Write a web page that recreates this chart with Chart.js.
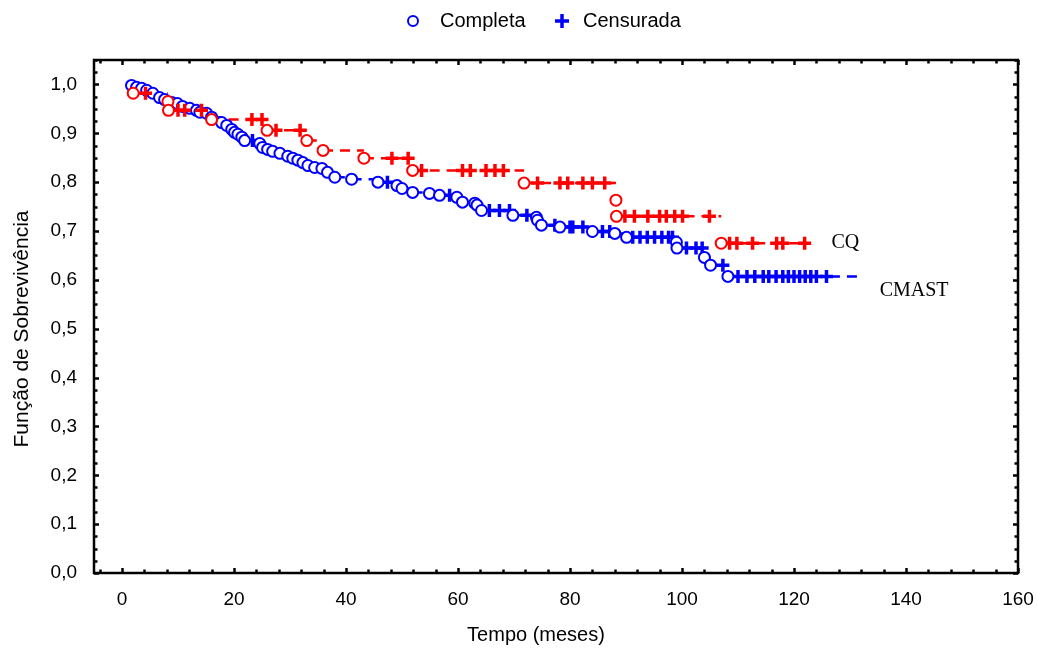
<!DOCTYPE html>
<html>
<head>
<meta charset="utf-8">
<script src="https://cdn.jsdelivr.net/npm/chart.js@4.4.1/dist/chart.umd.min.js"></script>
<style>
html,body{margin:0;padding:0;background:#fff;overflow:hidden}
canvas{display:block}
</style>
</head>
<body>
<canvas id="c" width="1037" height="651"></canvas>
<script>
// ---- Data ----
const cqEventTimes = [2, 8.2, 8.3, 16, 25.9, 33, 35.9, 43.2, 51.9, 71.8, 88.2, 88.3, 107];
const cqEventSurv  = [0.982, 0.965, 0.947, 0.928, 0.906, 0.885, 0.865, 0.849, 0.824, 0.798, 0.763, 0.730, 0.675];
const cqCensoredTimes = [4.2, 10.0, 11.2, 14.2, 23.2, 25.0, 27.5, 31.8, 48.2, 51.1, 53.5, 60.8, 62.2, 65.0, 66.6, 68.1,
  74.2, 78.2, 79.6, 82.3, 84.0, 86.2, 89.8, 91.5, 93.9, 96.0, 97.2, 98.7, 100.1, 104.9,
  108.5, 109.8, 112.6, 116.9, 118.0, 121.9];
const cqEndTime = 122;

const cmastEventTimes = [1.7, 2.6, 3.5, 4.4, 5.5, 6.7, 7.6, 8.9, 9.9, 10.8, 12.1, 13.3, 13.9, 15.1, 16.0, 17.8, 18.7,
  19.6, 20.1, 20.7, 21.4, 21.9, 24.6, 25.1, 26.0, 26.9, 28.2, 29.6, 30.5, 31.4, 32.3, 33.2, 34.4, 35.7, 36.7, 38.0,
  41.0, 45.7, 49.1, 50.0, 51.9, 54.9, 56.7, 59.8, 60.8, 63.0, 63.4, 64.2, 69.8, 74.0, 74.2, 74.9, 78.2, 84.0, 88.0,
  90.1, 99.0, 99.1, 104.0, 105.1, 108.2];
const cmastEventSurv = [0.998, 0.994, 0.992, 0.988, 0.982, 0.973, 0.969, 0.963, 0.961, 0.955, 0.951, 0.947, 0.943,
  0.941, 0.933, 0.922, 0.916, 0.908, 0.902, 0.898, 0.892, 0.885, 0.879, 0.871, 0.867, 0.863, 0.859, 0.853, 0.849,
  0.845, 0.840, 0.834, 0.830, 0.828, 0.820, 0.810, 0.806, 0.800, 0.793, 0.787, 0.779, 0.777, 0.773, 0.769, 0.759,
  0.757, 0.753, 0.742, 0.732, 0.728, 0.722, 0.712, 0.708, 0.699, 0.695, 0.687, 0.677, 0.665, 0.646, 0.630, 0.607];
const cmastCensoredTimes = [23.3, 47.4, 58.5, 65.6, 67.4, 69.2, 72.3, 77.3, 80.0, 80.5, 82.3, 85.8, 87.1,
  91.2, 92.5, 93.8, 95.1, 96.4, 97.6, 98.3, 100.8, 102.5, 103.6, 107.3,
  110.0, 111.6, 113.0, 114.5, 115.5, 116.8, 118.0, 119.0, 120.0, 121.0, 122.0, 123.0, 124.0, 125.8];
const cmastEndTime = 131.4;

const xTickValues = [0, 20, 40, 60, 80, 100, 120, 140, 160];
const xTickLabels = ['0', '20', '40', '60', '80', '100', '120', '140', '160'];
const yTickValues = [0, 0.1, 0.2, 0.3, 0.4, 0.5, 0.6, 0.7, 0.8, 0.9, 1.0];
const yTickLabels = ['0,0', '0,1', '0,2', '0,3', '0,4', '0,5', '0,6', '0,7', '0,8', '0,9', '1,0'];

const seriesNames = ['CQ', 'CMAST'];
const legendLabels = ['Completa', 'Censurada'];
const xTitle = 'Tempo (meses)';
const yTitle = 'Função de Sobrevivência';

// ---- Helpers building library data from the arrays ----
function survAt(times, surv, t) {
  let s = 1;
  for (let i = 0; i < times.length; i++) if (times[i] <= t) s = surv[i];
  return s;
}
function eventPoints(times, surv) { return times.map((t, i) => ({x: t, y: surv[i]})); }
function censorPoints(cTimes, times, surv) { return cTimes.map(t => ({x: t, y: survAt(times, surv, t)})); }
function stepSegments(times, surv, endTime) {
  const pts = [];
  for (let i = 0; i < times.length; i++) {
    const next = i < times.length - 1 ? times[i + 1] : endTime;
    pts.push({x: times[i], y: surv[i]}, {x: next, y: surv[i]}, {x: next, y: null});
  }
  return pts;
}

const RED = '#ff0000', BLUE = '#0000ff';
const FONT = '"Liberation Sans", Arial, sans-serif';
const SERIF = '"Liberation Serif", "Times New Roman", serif';

const framePlugin = {
  id: 'frame',
  afterDraw(chart) {
    const {ctx, chartArea: a, scales: {x, y}} = chart;
    ctx.save();
    ctx.strokeStyle = '#000';
    // ticks (inward, all four sides)
    ctx.lineWidth = 2.5;
    ctx.beginPath();
    for (let v = -4; v <= 160.001; v += 4) {
      const px = Math.round(x.getPixelForValue(v)) + 0.5;
      const len = (Math.abs(v % 20) < 0.001) ? 5 : 3.5;
      ctx.moveTo(px, a.bottom); ctx.lineTo(px, a.bottom - len);
      ctx.moveTo(px, a.top); ctx.lineTo(px, a.top + len);
    }
    for (let k = 0; k <= 42; k++) {
      const v = k * 0.025;
      const py = Math.round(y.getPixelForValue(v)) + 0.5;
      const len = (k % 4 === 0) ? 5 : 3.5;
      ctx.moveTo(a.left, py); ctx.lineTo(a.left + len, py);
      ctx.moveTo(a.right, py); ctx.lineTo(a.right - len, py);
    }
    ctx.stroke();
    // frame
    ctx.lineWidth = 2.5;
    ctx.strokeRect(a.left, a.top, a.right - a.left, a.bottom - a.top);

    // axis titles
    ctx.fillStyle = '#000';
    ctx.font = '20px ' + FONT;
    ctx.textAlign = 'center';
    ctx.textBaseline = 'middle';
    ctx.fillText(xTitle, 536, 635);
    ctx.save();
    ctx.translate(22, 329);
    ctx.rotate(-Math.PI / 2);
    ctx.font = '21px ' + FONT;
    ctx.fillText(yTitle, 0, 0);
    ctx.restore();

    // series labels
    ctx.font = '20px ' + SERIF;
    ctx.textAlign = 'left';
    const lbl = [{t: 126.7, s: 0.675}, {t: 135.3, s: 0.577}];
    seriesNames.forEach((n, i) => {
      ctx.fillText(n, x.getPixelForValue(lbl[i].t), y.getPixelForValue(lbl[i].s));
    });

    // legend
    ctx.font = '20px ' + FONT;
    ctx.strokeStyle = BLUE;
    ctx.lineWidth = 2;
    ctx.beginPath(); ctx.arc(413, 21, 5, 0, Math.PI * 2); ctx.stroke();
    ctx.fillText(legendLabels[0], 440, 21);
    ctx.lineWidth = 3.5;
    ctx.beginPath();
    ctx.moveTo(555, 21); ctx.lineTo(569, 21);
    ctx.moveTo(562, 14); ctx.lineTo(562, 28);
    ctx.stroke();
    ctx.fillText(legendLabels[1], 583, 21);
    ctx.restore();
  }
};

new Chart(document.getElementById('c'), {
  type: 'scatter',
  data: {
    datasets: [
      {label: 'CQ completa', data: eventPoints(cqEventTimes, cqEventSurv), pointStyle: 'circle', pointRadius: 5.5,
       borderColor: RED, backgroundColor: '#fff', pointBorderWidth: 2},
      {label: 'CQ censurada', data: censorPoints(cqCensoredTimes, cqEventTimes, cqEventSurv), pointStyle: 'cross',
       pointRadius: 6.5, borderColor: RED, pointBorderWidth: 3.5},
      {label: 'CMAST completa', data: eventPoints(cmastEventTimes, cmastEventSurv), pointStyle: 'circle', pointRadius: 5.5,
       borderColor: BLUE, backgroundColor: '#fff', pointBorderWidth: 2},
      {label: 'CMAST censurada', data: censorPoints(cmastCensoredTimes, cmastEventTimes, cmastEventSurv), pointStyle: 'cross',
       pointRadius: 6.5, borderColor: BLUE, pointBorderWidth: 3.5},
      {label: 'CQ', data: stepSegments(cqEventTimes, cqEventSurv, cqEndTime), showLine: true, pointRadius: 0,
       borderColor: RED, borderWidth: 2.5, borderDash: [10, 7], spanGaps: false},
      {label: 'CMAST', data: stepSegments(cmastEventTimes, cmastEventSurv, cmastEndTime), showLine: true, pointRadius: 0,
       borderColor: BLUE, borderWidth: 2.5, borderDash: [10, 7], spanGaps: false}
    ]
  },
  options: {
    responsive: false,
    animation: false,
    devicePixelRatio: 1,
    layout: {padding: {top: 60, right: 19, bottom: 0, left: 0}},
    plugins: {legend: {display: false}, tooltip: {enabled: false}},
    scales: {
      x: {
        type: 'linear', min: -5, max: 160,
        grid: {display: false, drawTicks: false, tickLength: 0},
        border: {display: false},
        afterBuildTicks: s => { s.ticks = xTickValues.map(v => ({value: v})); },
        afterFit: s => { s.height = 78; s.paddingLeft = 0; s.paddingRight = 0; },
        ticks: {color: '#000', font: {family: FONT, size: 19}, padding: 15, maxRotation: 0,
                callback: (v, i) => xTickLabels[i]}
      },
      y: {
        type: 'linear', min: 0, max: 1.05,
        grid: {display: false, drawTicks: false, tickLength: 0},
        border: {display: false},
        afterBuildTicks: s => { s.ticks = yTickValues.map(v => ({value: v})); },
        afterFit: s => { s.width = 94; s.paddingTop = 0; s.paddingBottom = 0; },
        ticks: {color: '#000', font: {family: FONT, size: 19}, padding: 17,
                callback: (v, i) => yTickLabels[i]}
      }
    }
  },
  plugins: [framePlugin]
});
</script>
</body>
</html>
